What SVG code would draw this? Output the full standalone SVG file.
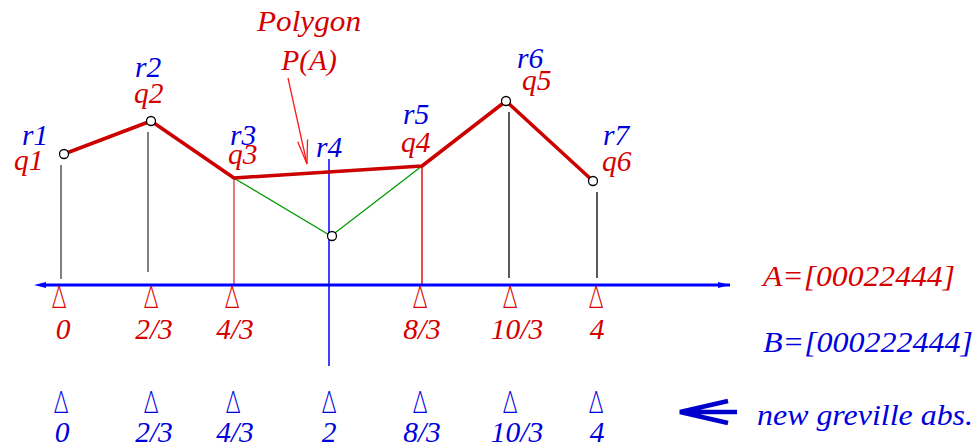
<svg xmlns="http://www.w3.org/2000/svg" xmlns:xlink="http://www.w3.org/1999/xlink" width="978" height="447" viewBox="0 0 978 447">
<style>
text{font-family:"Liberation Serif","Times New Roman",serif;font-style:italic;font-size:29.5px}
.r{fill:#d40000}
.b{fill:#0000dd}
.m{text-anchor:middle}
text.tri{font-family:"Lato","Noto Sans",sans-serif;font-weight:300;font-style:normal;font-size:32px;text-anchor:middle}
.pt{fill:#fff;stroke:#000;stroke-width:1.3}
</style>
<defs>
<text id="tri" class="tri" x="0" y="0" transform="scale(0.68,1)">Δ</text>
<marker id="ah" markerWidth="12" markerHeight="6" refX="12" refY="3" orient="auto" markerUnits="userSpaceOnUse">
<path d="M0,0 L12,3 L0,6 Z" fill="#0000ff"/>
</marker>
</defs>
<rect width="978" height="447" fill="#fff"/>

<g id="connectors">
<line x1="61" y1="165" x2="61" y2="279" stroke="#808080" stroke-width="2"/>
<line x1="148" y1="132" x2="148" y2="272" stroke="#808080" stroke-width="2"/>
<line x1="234" y1="178" x2="234" y2="285" stroke="#e05858" stroke-width="1.6"/>
<line x1="422" y1="166" x2="422" y2="285" stroke="#e00000" stroke-width="1.4"/>
<line x1="509" y1="112" x2="509" y2="278" stroke="#000" stroke-width="1.3"/>
<line x1="597" y1="192" x2="597" y2="278" stroke="#000" stroke-width="1.3"/>
<line x1="329" y1="159" x2="329" y2="366" stroke="#0000ff" stroke-width="1.5"/>
<line x1="44" y1="285" x2="730" y2="285" stroke="#0000ff" stroke-width="3" marker-end="url(#ah)"/>
<path d="M46,282 L34,285 L46,288 Z" fill="#0000ff"/>
<polyline points="222,171 331,236 422,166" fill="none" stroke="#009a00" stroke-width="1.3"/>
<polyline points="64,154 151,121 234,178 422,166 506,101 593,181" fill="none" stroke="#cc0000" stroke-width="3.5" stroke-linejoin="round"/>
<line x1="288" y1="78" x2="307" y2="164" stroke="#ff1a1a" stroke-width="1.3"/>
<polyline points="297.7,141.7 307,164 307.5,139.5" fill="none" stroke="#ff1a1a" stroke-width="1.3"/>
<path d="M737,412 L682,412 M728,401 L680,412 L728,423" fill="none" stroke="#0000cc" stroke-width="4.5" stroke-linejoin="miter"/>
</g>

<g id="p1"><circle class="pt" cx="64" cy="154" r="4.5"/><text class="b" x="22" y="145">r1</text><text class="r" x="14" y="170">q1</text></g>
<g id="p2"><circle class="pt" cx="151" cy="121" r="4.5"/><text class="b" x="135" y="77">r2</text><text class="r" x="134" y="103">q2</text></g>
<g id="p3"><text class="b" x="230" y="145">r3</text><text class="r" x="228" y="164">q3</text></g>
<g id="p4"><circle class="pt" cx="332" cy="236" r="4.5"/><text class="b" x="316" y="157">r4</text></g>
<g id="p5"><text class="b" x="403" y="124">r5</text><text class="r" x="401" y="152">q4</text></g>
<g id="p6"><circle class="pt" cx="506" cy="101" r="4.5"/><text class="b" x="517" y="68">r6</text><text class="r" x="522" y="90">q5</text></g>
<g id="p7"><circle class="pt" cx="593" cy="181" r="4.5"/><text class="b" x="603" y="145">r7</text><text class="r" x="602" y="171">q6</text></g>

<g id="label-polygon">
<text class="r m" x="309" y="31" textLength="104" lengthAdjust="spacingAndGlyphs">Polygon</text>
<text class="r m" x="309" y="70">P(A)</text>
</g>

<g id="knots-A">
<use xlink:href="#tri" x="59" y="308" fill="#dd0000"/>
<use xlink:href="#tri" x="151" y="308" fill="#dd0000"/>
<use xlink:href="#tri" x="232" y="308" fill="#dd0000"/>
<use xlink:href="#tri" x="420" y="308" fill="#dd0000"/>
<use xlink:href="#tri" x="510" y="308" fill="#dd0000"/>
<use xlink:href="#tri" x="596" y="308" fill="#dd0000"/>
<text class="r m" x="63" y="339">0</text>
<text class="r m" x="154" y="339">2/3</text>
<text class="r m" x="235" y="339">4/3</text>
<text class="r m" x="422" y="339">8/3</text>
<text class="r m" x="517" y="339">10/3</text>
<text class="r m" x="597" y="339">4</text>
<text class="r" x="763" y="286" textLength="192" lengthAdjust="spacingAndGlyphs">A=[00022444]</text>
</g>

<g id="knots-B">
<use xlink:href="#tri" x="61" y="413" fill="#0000dd"/>
<use xlink:href="#tri" x="151" y="413" fill="#0000dd"/>
<use xlink:href="#tri" x="233" y="413" fill="#0000dd"/>
<use xlink:href="#tri" x="329" y="413" fill="#0000dd"/>
<use xlink:href="#tri" x="420" y="413" fill="#0000dd"/>
<use xlink:href="#tri" x="510" y="413" fill="#0000dd"/>
<use xlink:href="#tri" x="596" y="413" fill="#0000dd"/>
<text class="b m" x="62" y="442">0</text>
<text class="b m" x="154" y="442">2/3</text>
<text class="b m" x="235" y="442">4/3</text>
<text class="b m" x="329" y="442">2</text>
<text class="b m" x="422" y="442">8/3</text>
<text class="b m" x="517" y="442">10/3</text>
<text class="b m" x="597" y="442">4</text>
<text class="b" x="763" y="352" textLength="210" lengthAdjust="spacingAndGlyphs">B=[000222444]</text>
<text class="b" x="757" y="425" textLength="216" lengthAdjust="spacingAndGlyphs">new greville abs.</text>
</g>
</svg>
